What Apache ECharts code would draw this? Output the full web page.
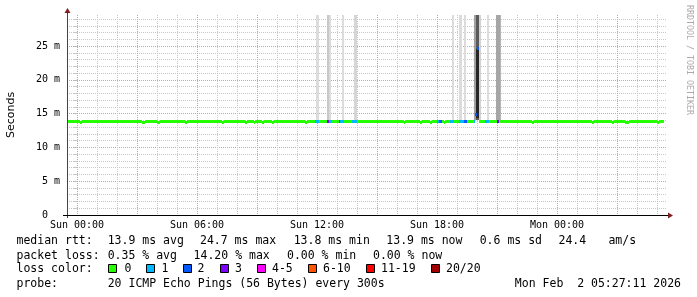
<!DOCTYPE html>
<html><head><meta charset="utf-8">
<script src="https://cdn.jsdelivr.net/npm/echarts@6/dist/echarts.min.js"></script>
<style>html,body{margin:0;padding:0;background:#fff}#c{width:697px;height:297px}</style>
</head><body><div id="c"></div>
<script>
// ---- data (x = hours since Sun 00:00, y = milliseconds) ----
const xTickHours = [0, 6, 12, 18, 24];
const xTickLabels = ['Sun 00:00', 'Sun 06:00', 'Sun 12:00', 'Sun 18:00', 'Mon 00:00'];
const yTickValues = [0, 5, 10, 15, 20, 25];
const yTickLabels = ['0  ', '5 m', '10 m', '15 m', '20 m', '25 m'];
const xRange = [-0.5, 29.5];
const yRange = [0, 29.6];
const stepsPerHour = 12;            // 300 s probe step
const firstStep = -6, lastStep = 351;
const medianTypical = 13.9;         // median rtt read at most steps
// [step, median ms, loss index] for steps that differ from the typical value
const medianSteps = [
  [2,13.75,0],[39,13.75,0],[40,13.75,0],[48,13.75,0],[49,13.75,0],[65,13.75,0],
  [87,13.75,0],[101,13.75,0],[106,13.75,0],[111,13.75,0],[117,13.75,0],[137,13.75,0],
  [143,13.9,1],[144,13.9,1],[150,13.9,3],[151,13.9,1],[152,13.9,1],
  [157,13.9,2],[158,13.9,1],[159,13.9,1],[165,13.9,1],[166,13.9,1],[167,13.9,1],
  [196,13.75,0],[206,13.75,0],[212,13.75,0],
  [216,13.9,1],[217,13.9,2],[218,13.9,2],[220,13.75,0],
  [224,13.9,1],[225,13.9,1],[229,13.9,1],[230,13.9,1],[231,13.9,1],[232,13.9,2],[233,13.9,2],
  [238,13.9,1],[239,15.0,2],[240,24.7,2],[245,13.9,1],[246,13.9,1],[252,13.9,3],
  [273,13.75,0],[309,13.75,0],[321,13.75,0],[329,13.75,0],[330,13.75,0],[348,13.75,0]
];
// smoke: [startHour, endHour, low ms, high ms, shade]
const smokeBars = [
  [11.95,12.10,14.0,29.6,'#dcdcdc'],
  [12.50,12.60,14.0,29.6,'#c8c8c8'],
  [12.60,12.70,14.0,29.6,'#dcdcdc'],
  [13.25,13.35,14.0,29.6,'#dcdcdc'],
  [13.85,14.00,14.0,29.6,'#d6d6d6'],
  [18.75,18.85,14.0,29.6,'#dcdcdc'],
  [19.10,19.25,14.0,29.6,'#dcdcdc'],
  [19.35,19.45,14.0,29.6,'#dcdcdc'],
  [19.85,20.20,14.0,29.6,'#d2d2d2'],
  [19.85,20.10,14.0,29.6,'#a0a0a0'],
  [19.95,20.10,14.0,29.6,'#5a5a5a'],
  [19.95,20.08,14.3,24.5,'#262626'],
  [20.50,20.60,14.0,29.6,'#dcdcdc'],
  [20.95,21.20,14.0,29.6,'#b4b4b4'],
  [20.95,21.15,14.0,29.6,'#a6a6a6']
];
const lossColors = ['#26ff00','#00b8ff','#0059ff','#7e00ff','#ff00ff','#ff5500','#ff0000','#a10000'];
const lossLabels = ['0','1','2','3','4-5','6-10','11-19','20/20'];
const statsRtt = ['median rtt:','13.9 ms avg','24.7 ms max','13.8 ms min','13.9 ms now','0.6 ms sd','24.4','am/s'];
const statsLoss = ['packet loss:','0.35 % avg','14.20 % max','0.00 % min','0.00 % now'];
const probeText = ['probe:','20 ICMP Echo Pings (56 Bytes) every 300s'];
const dateText = 'Mon Feb  2 05:27:11 2026';
const watermark = 'RRDTOOL / TOBI OETIKER';

// ---- build median runs (merge equal neighbouring steps) ----
const override = {};
medianSteps.forEach(s => { override[s[0]] = [s[1], s[2]]; });
const medianRuns = [];
for (let k = firstStep; k <= lastStep; k++) {
  const o = override[k] || [medianTypical, 0];
  const last = medianRuns[medianRuns.length - 1];
  if (last && last[2] === o[0] && last[3] === o[1]) last[1] = (k + 1) / stepsPerHour;
  else medianRuns.push([k / stepsPerHour, (k + 1) / stepsPerHour, o[0], o[1]]);
}

const MAJOR = '#eb9595', MINOR = '#c8c8c8', NONE = 'rgba(0,0,0,0)';
const MONO = 'DejaVu Sans Mono';
const chart = echarts.init(document.getElementById('c'), null, {renderer: 'canvas'});

const legendGraphics = [];
function txt(x, y, s, align) {
  legendGraphics.push({type: 'text', x: x, y: y, style: {text: s, fill: '#000', font: '11.5px "' + MONO + '"', textAlign: align || 'left', textVerticalAlign: 'middle'}});
}
const rttX = [16.5, 107.7, 200, 293.7, 386.3, 479.7, 558.5, 608.4];
statsRtt.forEach((s, i) => txt(rttX[i], 241, s));
const lossX = [16.5, 107.7, 193.6, 287, 373];
statsLoss.forEach((s, i) => txt(lossX[i], 256, s));
txt(16.5, 269, 'loss color:');
const boxX = [108, 145.5, 182.5, 220, 257, 307.5, 366, 431];
const boxLabelX = [124.6, 161.5, 197.6, 235, 272, 323, 381, 446];
lossLabels.forEach((l, i) => {
  legendGraphics.push({type: 'rect', shape: {x: Math.round(boxX[i]) + 0.5, y: 264.5, width: 8, height: 8},
    style: {fill: lossColors[i], stroke: '#000', lineWidth: 1}});
  txt(boxLabelX[i], 269, l);
});
txt(16.5, 284, probeText[0]);
txt(107.7, 284, probeText[1]);
txt(681, 284, dateText, 'right');

const option = {
  animation: false,
  backgroundColor: '#fff',
  grid: {left: 67, top: 15, width: 600, height: 200, containLabel: false, outerBoundsMode: 'none'},
  xAxis: {
    type: 'value', min: xRange[0], max: xRange[1], interval: 0.5,
    axisLine: {show: false}, axisTick: {show: false},
    splitLine: {show: true, showMinLine: true, showMaxLine: false,
      lineStyle: {color: [NONE, MAJOR, NONE, MINOR, NONE, MINOR], width: 1, type: [1, 1]}},
    axisLabel: {
      margin: 5, color: '#000', fontFamily: MONO, fontSize: 10,
      formatter: v => { const i = xTickHours.findIndex(h => Math.abs(h - v) < 1e-6); return i >= 0 ? xTickLabels[i] : ''; }
    }
  },
  yAxis: {
    type: 'value', min: yRange[0], max: yRange[1], interval: 1,
    name: 'Seconds', nameLocation: 'middle', nameGap: 50,
    nameTextStyle: {fontFamily: 'DejaVu Sans', fontSize: 11, color: '#000'},
    axisLine: {show: false},
    axisTick: {show: true, inside: false, length: 4, lineStyle: {color: MINOR, type: [1, 1]}},
    splitLine: {show: true, showMinLine: true, showMaxLine: false,
      lineStyle: {color: [MAJOR, MINOR, MINOR, MINOR, MINOR], width: 1, type: [1, 1]}},
    axisLabel: {
      margin: 7, color: '#000', fontFamily: MONO, fontSize: 10, showMaxLabel: false,
      formatter: v => { const i = yTickValues.findIndex(t => Math.abs(t - v) < 1e-6); return i >= 0 ? yTickLabels[i] : ''; }
    }
  },
  series: [
    {
      type: 'custom', z: 2, clip: true, silent: true, data: smokeBars,
      renderItem: (params, api) => {
        const d = smokeBars[params.dataIndex];
        const a = api.coord([d[0], d[3]]), b = api.coord([d[1], d[2]]);
        const x0 = Math.round(a[0]), x1 = Math.round(b[0]), y0 = Math.round(a[1]), y1 = Math.round(b[1]);
        return {type: 'rect', shape: {x: x0, y: y0, width: Math.max(1, x1 - x0), height: y1 - y0}, style: {fill: d[4]}};
      }
    },
    {
      type: 'custom', z: 3, clip: true, silent: true, data: medianRuns,
      renderItem: (params, api) => {
        const d = medianRuns[params.dataIndex];
        const a = api.coord([d[0], d[2]]), b = api.coord([d[1], d[2]]);
        const x0 = Math.round(a[0]), x1 = Math.round(b[0]);
        const yc = Math.round(a[1]);
        return {type: 'rect', shape: {x: x0, y: yc - 1, width: Math.max(1, x1 - x0), height: 3}, style: {fill: lossColors[d[3]]}};
      }
    }
  ],
  graphic: [
    {type: 'line', z: 10, shape: {x1: 67.5, y1: 11, x2: 67.5, y2: 218}, style: {stroke: '#444', lineWidth: 1}},
    {type: 'line', z: 10, shape: {x1: 63, y1: 215.5, x2: 669, y2: 215.5}, style: {stroke: '#000', lineWidth: 1}},
    {type: 'polygon', z: 11, shape: {points: [[64.5, 13], [70.5, 13], [67.5, 8]]}, style: {fill: '#801f1f'}},
    {type: 'polygon', z: 11, shape: {points: [[668, 212.5], [668, 218.5], [673, 215.5]]}, style: {fill: '#801f1f'}},
    {type: 'text', x: 689, y: 60, rotation: -Math.PI / 2,
      style: {text: watermark, fill: '#aaaaaa', font: '8.3px "' + MONO + '"', textAlign: 'center', textVerticalAlign: 'middle'}}
  ].concat(legendGraphics)
};
chart.setOption(option);
</script>
</body></html>
